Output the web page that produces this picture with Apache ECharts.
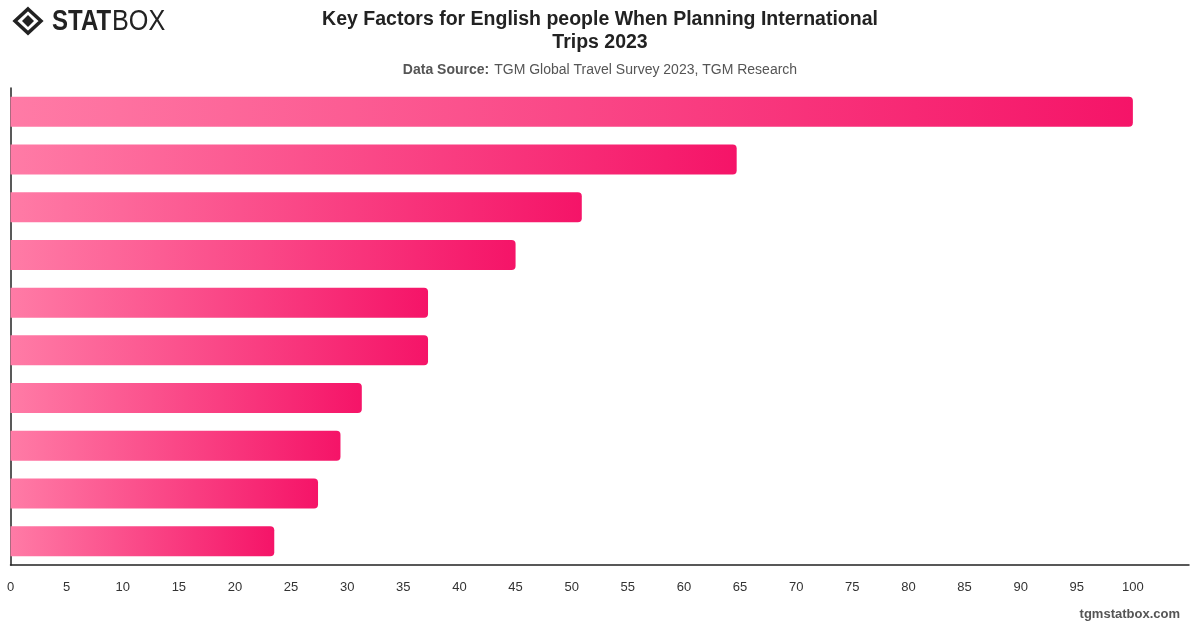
<!DOCTYPE html>
<html>
<head>
<meta charset="utf-8">
<script src="https://cdn.jsdelivr.net/npm/echarts@6/dist/echarts.min.js"></script>
<style>html,body{margin:0;padding:0;background:#fff}#c{width:1200px;height:628px}</style>
</head>
<body>
<div id="c"></div>
<script>
const categories = ["Factor 1","Factor 2","Factor 3","Factor 4","Factor 5","Factor 6","Factor 7","Factor 8","Factor 9","Factor 10"];
const values = [100, 64.7, 50.9, 45.0, 37.2, 37.2, 31.3, 29.4, 27.4, 23.5];
const tickLabels = [0,5,10,15,20,25,30,35,40,45,50,55,60,65,70,75,80,85,90,95,100];

const chart = echarts.init(document.getElementById('c'), null, {renderer:'canvas'});
const FONT = '"Liberation Sans", Arial, Helvetica, sans-serif';
chart.setOption({
  animation:false,
  backgroundColor:'#fff',
  title:[{
    text:'Key Factors for English people When Planning International\nTrips 2023',
    left:'center', top:3,
    textStyle:{fontFamily:FONT, fontSize:19.5, fontWeight:'bold', color:'#222', lineHeight:23}
  },{
    text:'{b|Data Source:} {n|TGM Global Travel Survey 2023, TGM Research}',
    left:'center', top:56,
    textStyle:{fontWeight:'normal', rich:{
      b:{fontFamily:FONT, fontSize:14, fontWeight:'bold', color:'#555'},
      n:{fontFamily:FONT, fontSize:14, fontWeight:'normal', color:'#555'}
    }}
  }],
  graphic:[
    {type:'polygon', shape:{points:[[28,9],[41,21],[28,33],[15,21]]}, style:{fill:'none', stroke:'#222', lineWidth:3.5}},
    {type:'polygon', shape:{points:[[28,15],[34,21],[28,27],[22,21]]}, style:{fill:'#222'}},
    {type:'text', x:52, y:7, scaleX:0.8, style:{text:'STAT', fontFamily:FONT, fontSize:30, fontWeight:900, fill:'#222', textVerticalAlign:'top'}},
    {type:'text', x:112, y:7, scaleX:0.84, style:{text:'BOX', fontFamily:FONT, fontSize:30, fontWeight:'normal', fill:'#222', textVerticalAlign:'top'}},
    {type:'text', right:20, top:608, style:{text:'tgmstatbox.com', fontFamily:FONT, fontSize:13, fontWeight:'bold', fill:'#555'}}
  ],
  grid:{left:10.5, right:11, top:88, bottom:63, containLabel:false},
  xAxis:{
    type:'value', min:0, max:105, interval:5,
    axisLine:{show:true, lineStyle:{color:'#222', width:1.5}},
    axisTick:{show:false},
    splitLine:{show:false},
    axisLabel:{color:'#333', fontFamily:FONT, fontSize:13, margin:16,
      formatter:function(v){ return tickLabels.indexOf(v) >= 0 ? String(v) : ''; }}
  },
  yAxis:{
    type:'category', data:categories, inverse:true,
    axisLine:{show:true, lineStyle:{color:'#222', width:1.5}},
    axisTick:{show:false},
    axisLabel:{show:false}
  },
  series:[{
    type:'bar', data:values, barWidth:30,
    itemStyle:{
      borderRadius:[0,4,4,0],
      color:new echarts.graphic.LinearGradient(0,0,1,0,[
        {offset:0, color:'#ff7ba6'},
        {offset:1, color:'#f51468'}
      ])
    }
  }]
});
</script>
</body>
</html>
